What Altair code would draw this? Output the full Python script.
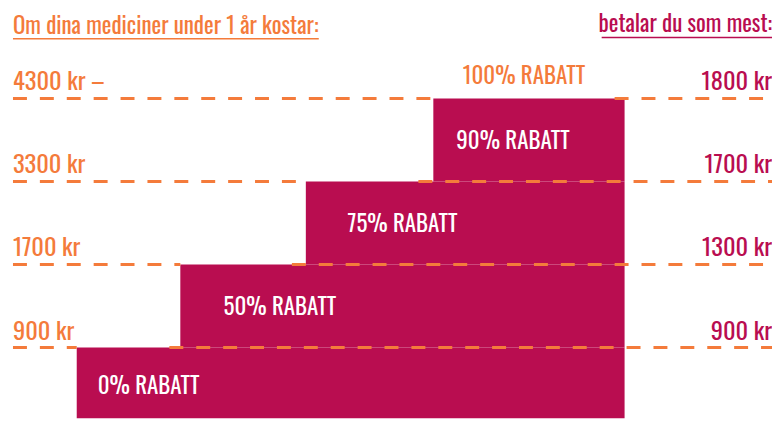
import altair as alt
import pandas as pd

# ---- data ----
rabatt_labels = ["0% RABATT", "50% RABATT", "75% RABATT", "90% RABATT", "100% RABATT"]
cost_labels = ["900 kr", "1700 kr", "3300 kr", "4300 kr –"]
pay_labels = ["900 kr", "1300 kr", "1700 kr", "1800 kr"]
levels = [1, 2, 3, 4]
header_left = "Om dina mediciner under 1 år kostar:"
header_right = "betalar du som mest:"

# ---- layout of the staircase illustration ----
W, H = 767, 411
Y_MIN, Y_MAX = 0.148, 5.08
step_left = [69, 173, 299, 427]
step_right = 619
gap_end = [162, 285, 412, 609]
label_x = [90, 273, 396, 507, 518]
label_level = [0.52, 1.47, 2.47, 3.47, 4.26]

ORANGE = "#F47B3B"
MAGENTA = "#B90D50"
FONT = "Oswald, Roboto Condensed, sans-serif"
W8 = 400

xs = alt.Scale(domain=[0, W], range=[0, W], nice=False, zero=False)
ys = alt.Scale(domain=[Y_MIN, Y_MAX], range=[H, 0], nice=False, zero=False)

bars = pd.DataFrame({
    "x": step_left,
    "x2": [step_right] * 4,
    "y": [Y_MIN] + levels[:3],
    "y2": levels,
})

seg_rows = []
for i, lv in enumerate(levels):
    seg_rows.append({"x": 5, "x2": step_left[i], "y": lv})
    seg_rows.append({"x": gap_end[i], "x2": W, "y": lv})
segs = pd.DataFrame(seg_rows)

left_df = pd.DataFrame({"x": [5] * 4, "y": levels, "t": cost_labels})
right_df = pd.DataFrame({"x": [W] * 4, "y": levels, "t": pay_labels})
rab_df = pd.DataFrame({"x": label_x, "y": label_level, "t": rabatt_labels})


def X(f):
    return alt.X(f, type="quantitative", scale=xs, axis=None)


def Y(f):
    return alt.Y(f, type="quantitative", scale=ys, axis=None)


bar_layer = alt.Chart(bars).mark_rect(color=MAGENTA).encode(
    x=X("x"), x2="x2", y=Y("y"), y2="y2")

line_layer = alt.Chart(segs).mark_rule(
    color=ORANGE, strokeWidth=3, strokeDash=[14, 13]).encode(
    x=X("x"), x2="x2", y=Y("y"))

left_text = alt.Chart(left_df).mark_text(
    align="left", baseline="middle", dy=-15, font=FONT, fontWeight=W8, fontSize=24.5, color=ORANGE
).encode(x=X("x"), y=Y("y"), text="t")

right_text = alt.Chart(right_df).mark_text(
    align="right", baseline="middle", dy=-15, font=FONT, fontWeight=W8, fontSize=24.5, color=MAGENTA
).encode(x=X("x"), y=Y("y"), text="t")

rab0 = alt.Chart(rab_df.iloc[:1]).mark_text(
    align="left", baseline="middle", font=FONT, fontWeight=W8, fontSize=23, color="white"
).encode(x=X("x"), y=Y("y"), text="t")

rab_mid = alt.Chart(rab_df.iloc[1:4]).mark_text(
    align="center", baseline="middle", font=FONT, fontWeight=W8, fontSize=23, color="white"
).encode(x=X("x"), y=Y("y"), text="t")

rab_top = alt.Chart(rab_df.iloc[4:]).mark_text(
    align="center", baseline="middle", font=FONT, fontWeight=W8, fontSize=23, color=ORANGE
).encode(x=X("x"), y=Y("y"), text="t")

hdr_df = pd.DataFrame({"x": [5, W], "y": [4.86, 4.885], "t": [header_left, header_right]})
hdr_l = alt.Chart(hdr_df.iloc[:1]).mark_text(
    align="left", baseline="middle", font=FONT, fontWeight=W8, fontSize=23, color=ORANGE
).encode(x=X("x"), y=Y("y"), text="t")
hdr_r = alt.Chart(hdr_df.iloc[1:]).mark_text(
    align="right", baseline="middle", font=FONT, fontWeight=W8, fontSize=23, color=MAGENTA
).encode(x=X("x"), y=Y("y"), text="t")

ul_l = alt.Chart(pd.DataFrame({"x": [5], "x2": [312], "y": [4.72]})).mark_rule(
    strokeWidth=1.5, color=ORANGE).encode(x=X("x"), x2="x2", y=Y("y"))
ul_r = alt.Chart(pd.DataFrame({"x": [596], "x2": [W], "y": [4.735]})).mark_rule(
    strokeWidth=1.5, color=MAGENTA).encode(x=X("x"), x2="x2", y=Y("y"))

chart = alt.layer(
    bar_layer, line_layer, left_text, right_text, rab0, rab_mid, rab_top,
    hdr_l, hdr_r, ul_l, ul_r
).properties(
    width=W, height=H, autosize=alt.AutoSizeParams(type="none"), padding=0
).configure_view(stroke=None)

chart.save("out.html", embed_options={"renderer": "svg", "actions": False})
